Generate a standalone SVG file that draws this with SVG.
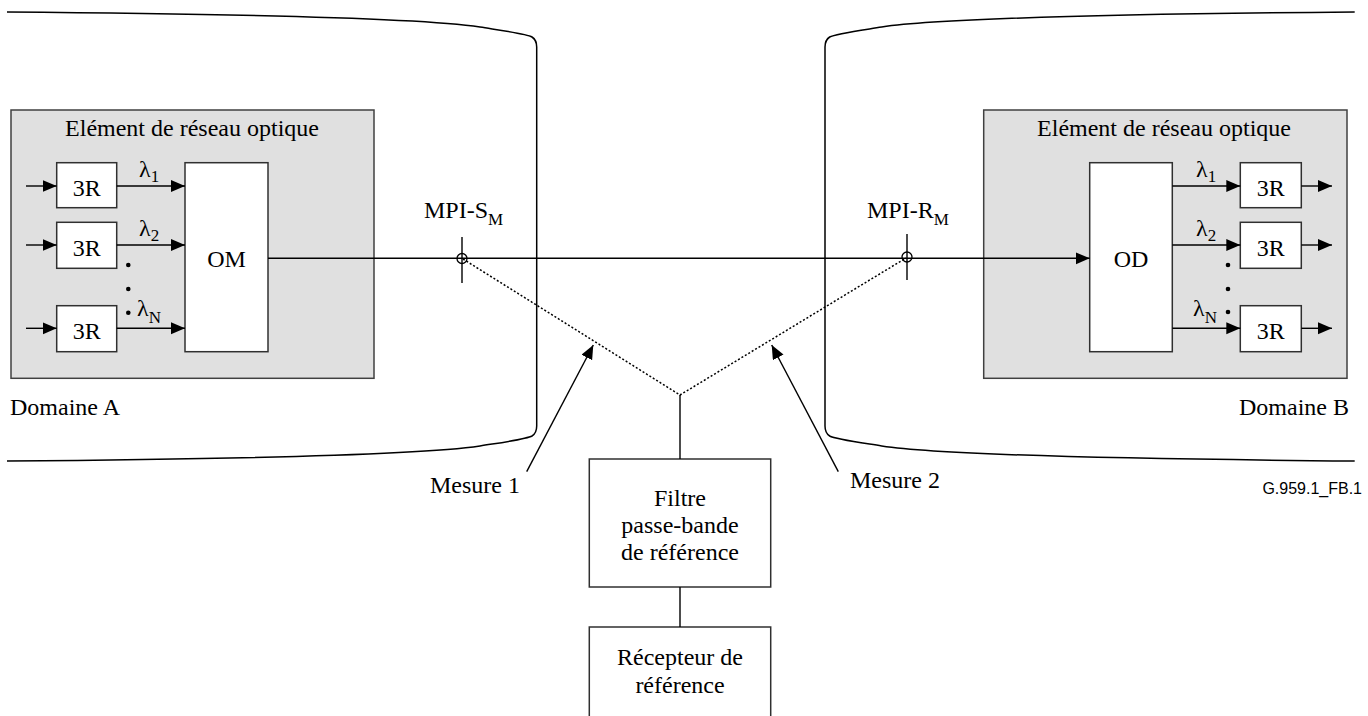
<svg xmlns="http://www.w3.org/2000/svg" width="1368" height="716" viewBox="0 0 1368 716">
<style>
.t{font-family:"Liberation Serif","Times New Roman","DejaVu Serif",serif;font-size:24px;fill:#000}
.s{font-size:17px}
.c{text-anchor:middle}
.e{text-anchor:end}
.dom{fill:none;stroke:#000;stroke-width:1.5}
.ne{fill:#e0e0e0;stroke:#404040;stroke-width:1.5}
.box{fill:#fff;stroke:#303030;stroke-width:1.5}
.ln{fill:none;stroke:#000;stroke-width:1.4}
.arr{fill:none;stroke:#000;stroke-width:1.4;marker-end:url(#ah)}
.dot{fill:none;stroke:#000;stroke-width:1.5;stroke-dasharray:2 2}
.fn{font-family:"Liberation Sans",Arial,sans-serif;font-size:16px;fill:#000}
</style>
<defs>
<marker id="ah" markerUnits="userSpaceOnUse" markerWidth="15" markerHeight="13" refX="14" refY="6" orient="auto">
<path d="M0,0 L14,6 L0,12 Z" fill="#000"/>
</marker>
</defs>
<rect width="1368" height="716" fill="#fff"/>

<g id="domaineA">
<path class="dom" d="M7,12 C250,14 420,18 480,27 C505,31 527,34 532,37 Q536.7,40 536.7,47 V426 Q536.7,433 532,436 C527,439 505,442 480,446 C420,455 250,459 7,461"/>
<text class="t" x="10" y="415">Domaine A</text>
</g>
<g id="domaineB">
<path class="dom" d="M1354.7,12 C1111.7,14 941.7,18 881.7,27 C856.7,31 834.7,34 829.7,37 Q825,40 825,47 V426 Q825,433 829.7,436 C834.7,439 856.7,442 881.7,446 C941.7,455 1111.7,459 1354.7,461"/>
<text class="t e" x="1349" y="415">Domaine B</text>
</g>

<g id="ne-A">
<rect class="ne" x="11" y="110" width="363" height="268.3"/>
<text class="t c" x="192" y="136">Elément de réseau optique</text>
</g>
<g id="ne-B">
<rect class="ne" x="983.7" y="110" width="363.3" height="268.3"/>
<text class="t c" x="1164" y="136">Elément de réseau optique</text>
</g>

<g id="a-3r-1"><rect class="box" x="56.7" y="162.7" width="60" height="45"/><text class="t c" x="86.7" y="195.5">3R</text></g>
<g id="a-3r-2"><rect class="box" x="56.7" y="222.3" width="60" height="46"/><text class="t c" x="86.7" y="255.5">3R</text></g>
<g id="a-3r-n"><rect class="box" x="56.7" y="305.7" width="60" height="46"/><text class="t c" x="86.7" y="339">3R</text></g>
<g id="om"><rect class="box" x="185" y="162.7" width="83" height="189"/><text class="t c" x="226.5" y="267">OM</text></g>

<g id="od"><rect class="box" x="1089.7" y="162.7" width="82.6" height="189"/><text class="t c" x="1131" y="267">OD</text></g>
<g id="b-3r-1"><rect class="box" x="1240.3" y="162.7" width="61" height="45"/><text class="t c" x="1270.8" y="195.5">3R</text></g>
<g id="b-3r-2"><rect class="box" x="1240.3" y="222.3" width="61" height="46"/><text class="t c" x="1270.8" y="255.5">3R</text></g>
<g id="b-3r-n"><rect class="box" x="1240.3" y="305.7" width="61" height="46"/><text class="t c" x="1270.8" y="339">3R</text></g>

<g id="filtre"><rect class="box" x="589.3" y="459" width="181.4" height="128"/>
<text class="t c" x="680" y="506">Filtre</text>
<text class="t c" x="680" y="533">passe-bande</text>
<text class="t c" x="680" y="560">de référence</text></g>
<g id="recepteur"><rect class="box" x="589.3" y="627" width="181.4" height="100"/>
<text class="t c" x="680" y="665">Récepteur de</text>
<text class="t c" x="680" y="693">référence</text></g>

<g id="mpi-s">
<line class="ln" x1="462" y1="237" x2="462" y2="283"/>
<circle cx="462" cy="258.5" r="5" fill="none" stroke="#000" stroke-width="1.3"/>
<text class="t" x="424" y="218">MPI-S<tspan class="s" dy="6.5">M</tspan></text>
</g>
<g id="mpi-r">
<line class="ln" x1="907" y1="234" x2="907" y2="280"/>
<circle cx="907" cy="257" r="5" fill="none" stroke="#000" stroke-width="1.3"/>
<text class="t" x="867" y="218">MPI-R<tspan class="s" dy="6.5">M</tspan></text>
</g>

<g id="labels">
<text class="t" x="139" y="177">λ<tspan class="s" dy="5">1</tspan></text>
<text class="t" x="139" y="236">λ<tspan class="s" dy="5">2</tspan></text>
<text class="t" x="137" y="316">λ<tspan class="s" dy="7">N</tspan></text>
<text class="t" x="1196" y="177">λ<tspan class="s" dy="5">1</tspan></text>
<text class="t" x="1196" y="236">λ<tspan class="s" dy="5">2</tspan></text>
<text class="t" x="1193" y="316">λ<tspan class="s" dy="7">N</tspan></text>
<circle cx="128.3" cy="265" r="2.3"/><circle cx="128.3" cy="289" r="2.3"/><circle cx="128.3" cy="312.7" r="2.3"/>
<circle cx="1228" cy="265" r="2.3"/><circle cx="1228" cy="289" r="2.3"/><circle cx="1228" cy="312" r="2.3"/>
<text class="t" x="430" y="493">Mesure 1</text>
<text class="t" x="850" y="488">Mesure 2</text>
<text class="fn e" x="1362" y="494">G.959.1_FB.1</text>
</g>

<g id="connectors">
<line class="arr" x1="26" y1="186" x2="56.7" y2="186"/>
<line class="arr" x1="26" y1="245" x2="56.7" y2="245"/>
<line class="arr" x1="26" y1="328.3" x2="56.7" y2="328.3"/>
<line class="arr" x1="116.7" y1="186" x2="185" y2="186"/>
<line class="arr" x1="116.7" y1="245" x2="185" y2="245"/>
<line class="arr" x1="116.7" y1="328.3" x2="185" y2="328.3"/>
<line class="arr" x1="268" y1="258.3" x2="1089.7" y2="258.3"/>
<line class="arr" x1="1172.3" y1="186" x2="1240.3" y2="186"/>
<line class="arr" x1="1172.3" y1="245" x2="1240.3" y2="245"/>
<line class="arr" x1="1172.3" y1="328.3" x2="1240.3" y2="328.3"/>
<line class="arr" x1="1301.3" y1="186" x2="1332" y2="186"/>
<line class="arr" x1="1301.3" y1="245" x2="1332" y2="245"/>
<line class="arr" x1="1301.3" y1="328.3" x2="1332" y2="328.3"/>
<polyline class="dot" points="463,259 680,395 906,258"/>
<line class="ln" x1="680" y1="395" x2="680" y2="459"/>
<line class="ln" x1="680" y1="587" x2="680" y2="627"/>
<line class="arr" x1="526.7" y1="471.7" x2="593.3" y2="345"/>
<line class="arr" x1="838.3" y1="471.7" x2="771.7" y2="345"/>
</g>
</svg>
